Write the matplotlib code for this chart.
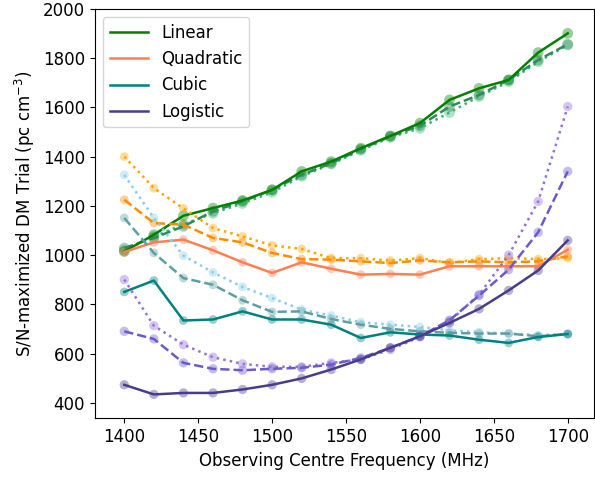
import matplotlib

matplotlib.use("Agg")
import matplotlib.pyplot as plt
import numpy as np

# Centre frequencies of the sub-band trials (MHz)
freqs = np.arange(1400, 1701, 20)

# DM trial that maximised S/N, per fit model; three variants per model
linear_a = [1015, 1083, 1160, 1191, 1222, 1265, 1340, 1380, 1434, 1484, 1536, 1630, 1677, 1711, 1822, 1900]
linear_b = [1029, 1070, 1117, 1178, 1218, 1265, 1326, 1373, 1430, 1482, 1525, 1603, 1650, 1711, 1792, 1856]
linear_c = [1020, 1075, 1125, 1170, 1210, 1255, 1320, 1370, 1425, 1478, 1515, 1579, 1644, 1704, 1785, 1853]

quad_a = [1013, 1052, 1063, 1020, 971, 928, 971, 945, 921, 924, 921, 955, 955, 955, 955, 1022]
quad_b = [1225, 1130, 1124, 1070, 1052, 1009, 984, 982, 975, 968, 979, 971, 975, 971, 975, 995]
quad_c = [1400, 1272, 1190, 1110, 1076, 1040, 1025, 988, 988, 978, 988, 968, 984, 988, 984, 988]

cubic_a = [851, 897, 735, 739, 772, 739, 739, 718, 664, 687, 678, 674, 657, 644, 668, 680]
cubic_b = [1151, 1009, 907, 880, 817, 770, 772, 741, 718, 701, 691, 685, 682, 682, 671, 680]
cubic_c = [1326, 1151, 998, 930, 871, 826, 779, 755, 728, 718, 709, 695, 688, 682, 676, 680]

logit_a = [474, 435, 441, 441, 455, 474, 500, 536, 577, 624, 671, 725, 782, 857, 938, 1060]
logit_b = [691, 660, 563, 539, 533, 539, 543, 556, 583, 624, 671, 736, 836, 941, 1093, 1340]
logit_c = [901, 714, 637, 586, 559, 547, 547, 563, 577, 617, 668, 732, 840, 1000, 1218, 1603]

models = [
    ("Linear", (linear_a, linear_b, linear_c), ("green", "seagreen", "mediumseagreen"), 60),
    ("Quadratic", (quad_a, quad_b, quad_c), ("coral", "darkorange", "orange"), 40),
    ("Cubic", (cubic_a, cubic_b, cubic_c), ("teal", "cadetblue", "skyblue"), 40),
    ("Logistic", (logit_a, logit_b, logit_c), ("darkslateblue", "slateblue", "mediumpurple"), 45),
]
styles = ["-", "--", ":"]

plt.rcParams["font.size"] = 12

fig = plt.figure(figsize=(5.95, 4.8), dpi=100)
ax = fig.add_axes([0.1592, 0.1285, 0.8397, 0.8533])

for name, series, colors, size in models:
    # draw dotted and dashed variants first so the solid one sits on top
    for k in (2, 1, 0):
        ax.scatter(freqs, series[k], s=size, color=colors[k], alpha=0.4,
                   edgecolors="none", zorder=2)
        ax.plot(freqs, series[k], ls=styles[k], color=colors[k], lw=1.8,
                label=name if k == 0 else None, zorder=3)

ax.set_xlim(1380, 1718)
ax.set_ylim(338, 2000)
ax.set_xticks([1400, 1450, 1500, 1550, 1600, 1650, 1700])
ax.set_yticks(range(400, 2001, 200))
ax.set_xlabel("Observing Centre Frequency (MHz)")
ax.set_ylabel("S/N-maximized DM Trial (pc cm$^{-3}$)")
ax.legend(loc="upper left", handlelength=2.3)

fig.savefig("out.png", dpi=100)
